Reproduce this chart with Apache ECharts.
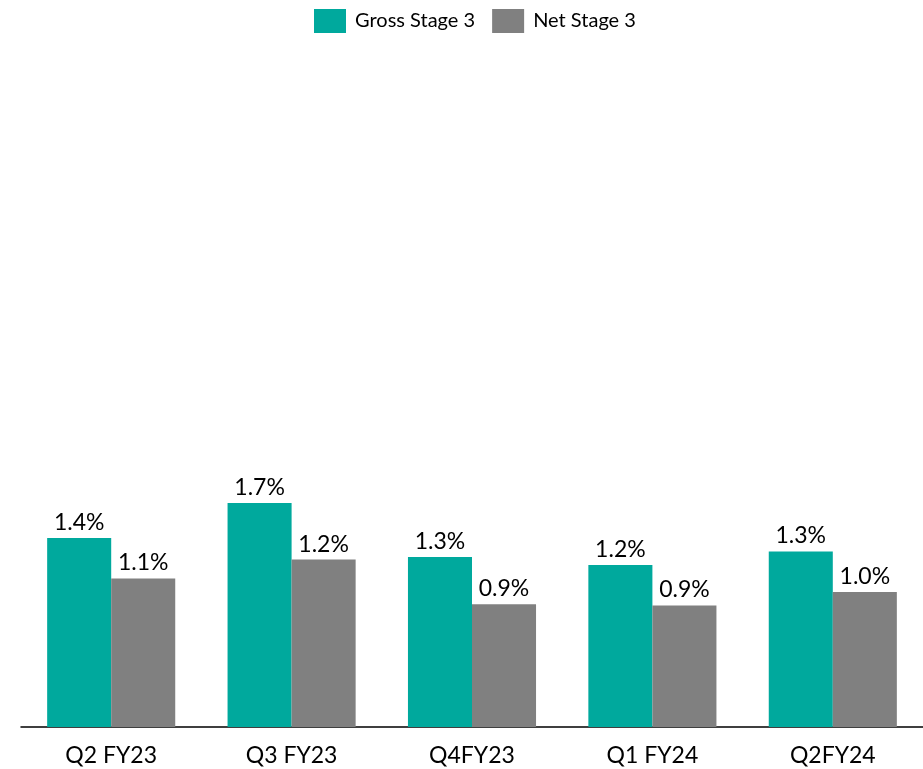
<!DOCTYPE html>
<html>
<head>
<meta charset="utf-8">
<script src="https://cdn.jsdelivr.net/npm/echarts@6/dist/echarts.min.js"></script>
<style>
html,body{margin:0;padding:0;background:#fff;}
#chart{width:923px;height:769px;}
</style>
</head>
<body>
<div id="chart"></div>
<script>
var categories = ['Q2 FY23', 'Q3 FY23', 'Q4FY23', 'Q1 FY24', 'Q2FY24'];
var grossStage3 = [1.40, 1.66, 1.26, 1.20, 1.30];
var netStage3 = [1.10, 1.24, 0.91, 0.90, 1.00];
var seriesNames = ['Gross Stage 3', 'Net Stage 3'];

var FONT = 'Lato';
function pct(p) { return p.value.toFixed(1) + '%'; }
var labelStyle = {
  show: true, position: 'top', distance: 4,
  formatter: pct, color: '#000', fontFamily: FONT, fontSize: 23
};

var chart = echarts.init(document.getElementById('chart'));
chart.setOption({
  animation: false,
  legend: {
    left: 309, top: 4,
    itemWidth: 32, itemHeight: 24, itemGap: 17,
    icon: 'rect',
    textStyle: { fontFamily: FONT, fontSize: 20, color: '#000', padding: [0, 0, 0, 4] },
    data: seriesNames
  },
  grid: { left: 21, right: 0, top: 52, bottom: 42 },
  xAxis: {
    type: 'category',
    data: categories,
    axisLine: { show: true, lineStyle: { color: '#000', width: 1.5 } },
    axisTick: { show: false },
    axisLabel: { color: '#000', fontFamily: FONT, fontSize: 23, margin: 17 }
  },
  yAxis: {
    type: 'value', min: 0, max: 5,
    show: false,
    splitLine: { show: false }
  },
  series: [
    {
      name: seriesNames[0], type: 'bar', data: grossStage3,
      barGap: '0%', barCategoryGap: '29%',
      itemStyle: { color: '#00A99D' },
      label: labelStyle
    },
    {
      name: seriesNames[1], type: 'bar', data: netStage3,
      itemStyle: { color: '#808080' },
      label: labelStyle
    }
  ]
});
</script>
</body>
</html>
